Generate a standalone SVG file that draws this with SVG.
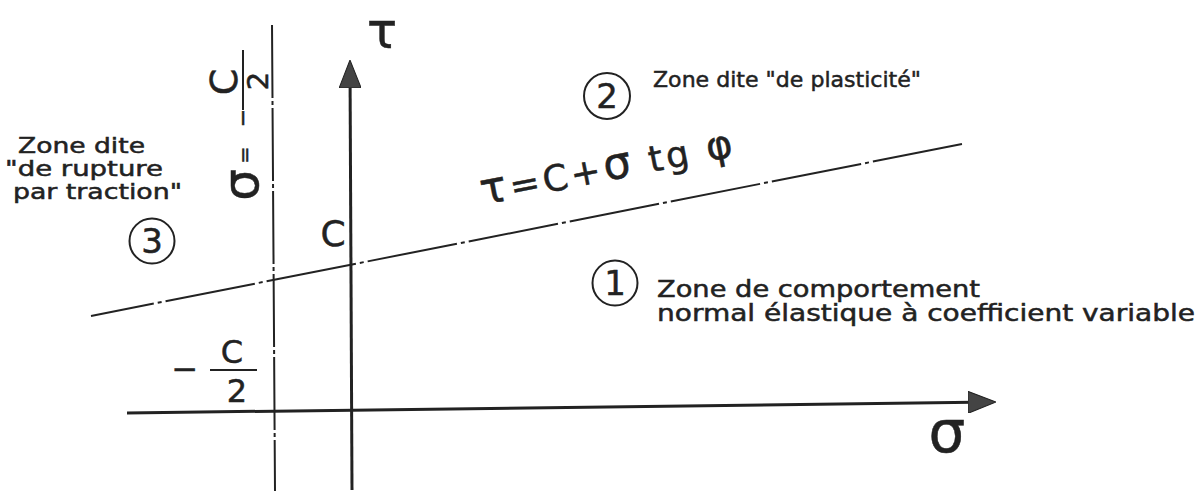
<svg xmlns="http://www.w3.org/2000/svg" width="1201" height="495" viewBox="0 0 1201 495">
<style>
.t{font-family:"DejaVu Sans","Liberation Sans",sans-serif;fill:#222;stroke:#222;stroke-width:0.5}
.ax{stroke:#222;stroke-width:3;fill:none}
.dd{stroke:#222;stroke-width:2;fill:none}
.cir{stroke:#222;stroke-width:2;fill:none}
</style>
<defs>
<marker id="arr" viewBox="0 0 28 22" refX="24" refY="11" markerWidth="28" markerHeight="22" markerUnits="userSpaceOnUse" orient="auto">
<path d="M0,0 L28,11 L0,22 z" fill="#444" stroke="#222" stroke-width="1"/>
</marker>
</defs>
<g id="connectors">
<line id="sigma-axis" class="ax" x1="127" y1="413" x2="992" y2="402" marker-end="url(#arr)"/>
<line id="tau-axis" class="ax" x1="352" y1="490" x2="350" y2="64" marker-end="url(#arr)"/>
<line id="limit-line" class="dd" x1="272" y1="23" x2="275" y2="491" stroke-dasharray="73 3 4 3" stroke-dashoffset="-2"/>
<line id="coulomb-line" class="dd" x1="91" y1="316" x2="962" y2="144" stroke-dasharray="91 4 4 4" stroke-dashoffset="27"/>
</g>
<g id="axis-labels">
<text class="t" x="382" y="48" font-size="50" text-anchor="middle">τ</text>
<text class="t" x="947" y="452" font-size="58" text-anchor="middle">σ</text>
<text class="t" x="333" y="246" font-size="36" text-anchor="middle">C</text>
</g>
<g id="limit-label" transform="translate(258,200) rotate(-90)">
<text class="t" x="15" y="0" font-size="50" text-anchor="middle">σ</text>
<text class="t" x="45" y="-7" font-size="20" text-anchor="middle">=</text>
<text class="t" x="82" y="-8" font-size="22" text-anchor="middle">−</text>
<line class="dd" x1="90" y1="-15" x2="150" y2="-15"/>
<text class="t" x="118" y="-21" font-size="38" text-anchor="middle">C</text>
<text class="t" x="119" y="10" font-size="29" text-anchor="middle">2</text>
</g>
<g id="minus-c-half">
<text class="t" x="185" y="380" font-size="32" text-anchor="middle">−</text>
<line class="dd" x1="210" y1="370" x2="257" y2="370"/>
<text class="t" x="232" y="363" font-size="32" text-anchor="middle">C</text>
<text class="t" x="237" y="402" font-size="32" text-anchor="middle">2</text>
</g>
<g id="formula" transform="rotate(-11,483,205)">
<text class="t" x="483" y="205" font-size="36" textLength="256" lengthAdjust="spacing"><tspan font-size="44">τ</tspan>=C+<tspan font-size="44">σ</tspan> tg <tspan font-size="40">φ</tspan></text>
</g>
<g id="zone-3">
<text class="t" x="18" y="153" font-size="21" textLength="127" lengthAdjust="spacingAndGlyphs">Zone dite</text>
<text class="t" x="5" y="176" font-size="21" textLength="158" lengthAdjust="spacingAndGlyphs">"de rupture</text>
<text class="t" x="13" y="199" font-size="21" textLength="169" lengthAdjust="spacingAndGlyphs">par traction"</text>
<circle class="cir" cx="152" cy="241" r="22.5"/>
<text class="t" x="152" y="253" font-size="34" text-anchor="middle">3</text>
</g>
<g id="zone-2">
<circle class="cir" cx="607" cy="96" r="23"/>
<text class="t" x="607" y="108" font-size="34" text-anchor="middle">2</text>
<text class="t" x="653" y="87" font-size="22" textLength="268" lengthAdjust="spacingAndGlyphs">Zone dite  "de plasticité"</text>
</g>
<g id="zone-1">
<circle class="cir" cx="615" cy="283" r="22.5"/>
<text class="t" x="615" y="295" font-size="34" text-anchor="middle">1</text>
<text class="t" x="657" y="297" font-size="23" textLength="323" lengthAdjust="spacingAndGlyphs">Zone de comportement</text>
<text class="t" x="657" y="321" font-size="23" textLength="538" lengthAdjust="spacingAndGlyphs">normal élastique à coefficient variable</text>
</g>
</svg>
